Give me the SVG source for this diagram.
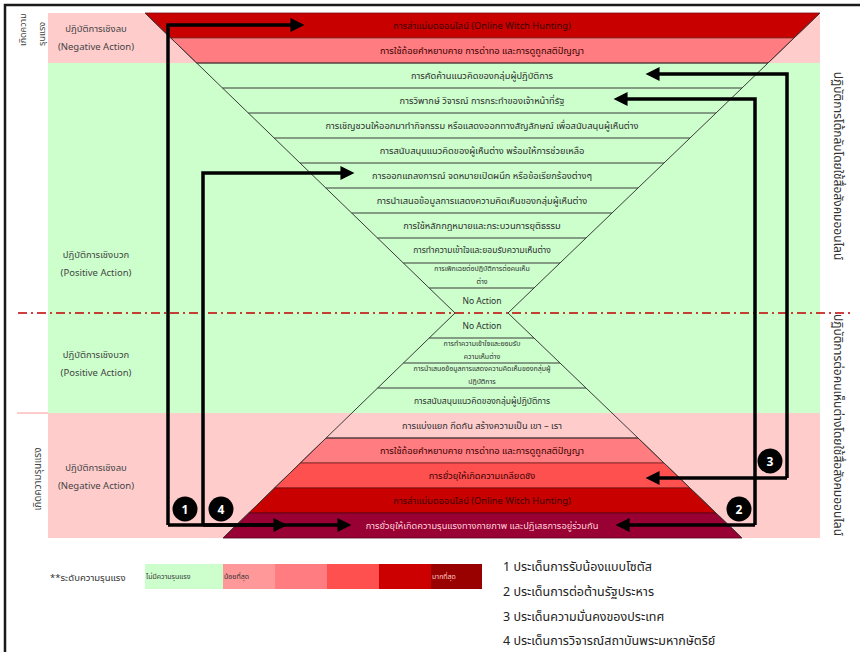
<svg xmlns="http://www.w3.org/2000/svg" width="860" height="652" viewBox="0 0 860 652">
<style>
text{font-family:"Noto Sans Thai","Noto Sans","DejaVu Sans",sans-serif}
.r{font-size:9.3px;text-anchor:middle;fill:#2e2e2e}
.rd{font-size:9.3px;text-anchor:middle;fill:#3a0000}
.rw{font-size:9.3px;text-anchor:middle;fill:#ffd6de}
.s{font-size:7px;text-anchor:middle;fill:#2e2e2e}
.lbl{font-size:9.5px;text-anchor:middle;fill:#444}
.v{font-size:9px;fill:#444}
.vr{font-size:12px;fill:#333;text-anchor:middle}
.sep{stroke:#3a3a3a;stroke-width:1;fill:none}
.arr{stroke:#000;stroke-width:3.5;fill:none;marker-end:url(#ah)}
.num{font-size:12px;font-weight:bold;fill:#fff;text-anchor:middle}
.lg{font-size:7px;fill:#333}
.li{font-size:12.5px;fill:#222}
</style>
<defs>
<marker id="ah" viewBox="0 0 10 10" refX="4.67" refY="5" markerWidth="15" markerHeight="14" markerUnits="userSpaceOnUse" orient="auto">
<path d="M0,0 L10,5 L0,10 z" fill="#000"/>
</marker>
</defs>
<rect width="860" height="652" fill="#fff"/>
<g id="frame">
<path d="M5,652 V5 H860" stroke="#1a1a1a" stroke-width="2.5" fill="none"/>
</g>
<g id="bands">
<rect x="48" y="13" width="772" height="50" fill="#FFCCCC"/>
<rect x="48" y="63" width="772" height="350" fill="#CCFFCC"/>
<rect x="48" y="413" width="772" height="125" fill="#FFCCCC"/>
<line x1="17" y1="413" x2="48" y2="413" stroke="#FF9999" stroke-width="1"/>
</g>
<g id="top-funnel">
<polygon points="145,13 820,13 794,38 170.8,38" fill="#C80000" stroke="#7a1010" stroke-width="0.8"/>
<polygon points="170.8,38 794,38 768,63 196.7,63" fill="#FF7C80" stroke="#7a3030" stroke-width="0.8"/>
<path class="sep" d="M145,13 L455,313 M820,13 L508,313 M196.7,63 H768 M222.5,88 H742 M248.3,113 H716 M274.2,138 H690 M300,163 H664 M325.8,188 H638 M351.7,213 H612 M377.5,238 H586 M403.3,263 H560 M429.2,288 H534"/>
<text class="rd" x="482" y="29">การล่าแม่มดออนไลน์ (Online Witch Hunting)</text>
<text class="rd" x="482" y="54">การใช้ถ้อยคำหยาบคาย การด่าทอ และการดูถูกสติปัญญา</text>
<text class="r" x="482" y="79">การคัดค้านแนวคิดของกลุ่มผู้ปฏิบัติการ</text>
<text class="r" x="482" y="104">การวิพากษ์ วิจารณ์ การกระทำของเจ้าหน้าที่รัฐ</text>
<text class="r" x="482" y="129">การเชิญชวนให้ออกมาทำกิจกรรม หรือแสดงออกทางสัญลักษณ์ เพื่อสนับสนุนผู้เห็นต่าง</text>
<text class="r" x="482" y="154">การสนับสนุนแนวคิดของผู้เห็นต่าง พร้อมให้การช่วยเหลือ</text>
<text class="r" x="482" y="179">การออกแถลงการณ์ จดหมายเปิดผนึก หรือข้อเรียกร้องต่างๆ</text>
<text class="r" x="482" y="204">การนำเสนอข้อมูลการแสดงความคิดเห็นของกลุ่มผู้เห็นต่าง</text>
<text class="r" x="482" y="229">การใช้หลักกฎหมายและกระบวนการยุติธรรม</text>
<text class="r" x="482" y="253" style="font-size:8.5px">การทำความเข้าใจและยอมรับความเห็นต่าง</text>
<text class="s" x="482" y="271">การเพิกเฉยต่อปฏิบัติการต่อคนเห็น</text>
<text class="s" x="482" y="284">ต่าง</text>
<text class="r" x="482" y="304" style="font-size:8.5px">No Action</text>
</g>
<g id="bottom-funnel">
<polygon points="326.1,438 638,438 664,463 300.3,463" fill="#FF7C80" stroke="#7a3030" stroke-width="0.8"/>
<polygon points="300.3,463 664,463 690,488 274.6,488" fill="#FF5050" stroke="#7a2020" stroke-width="0.8"/>
<polygon points="274.6,488 690,488 716,513 248.8,513" fill="#C80000" stroke="#6a1010" stroke-width="0.8"/>
<polygon points="248.8,513 716,513 742,538 223,538" fill="#990033" stroke="#500018" stroke-width="0.8"/>
<path class="sep" d="M455,313 L223,538 M508,313 L742,538 M429.2,338 H534 M403.4,363 H560 M377.7,388 H586 M326.1,438 H638"/>
<text class="r" x="482" y="329" style="font-size:8.5px">No Action</text>
<text class="s" x="482" y="346">การทำความเข้าใจและยอมรับ</text>
<text class="s" x="482" y="359">ความเห็นต่าง</text>
<text class="s" x="482" y="371">การนำเสนอข้อมูลการแสดงความคิดเห็นของกลุ่มผู้</text>
<text class="s" x="482" y="384">ปฏิบัติการ</text>
<text class="r" x="482" y="404" style="font-size:8.5px">การสนับสนุนแนวคิดของกลุ่มผู้ปฏิบัติการ</text>
<text class="r" x="482" y="429">การแบ่งแยก กีดกัน สร้างความเป็น เขา – เรา</text>
<text class="rd" x="482" y="454">การใช้ถ้อยคำหยาบคาย การด่าทอ และการดูถูกสติปัญญา</text>
<text class="rd" x="482" y="479">การยั่วยุให้เกิดความเกลียดชัง</text>
<text class="rd" x="482" y="504">การล่าแม่มดออนไลน์ (Online Witch Hunting)</text>
<text class="rw" x="482" y="529">การยั่วยุให้เกิดความรุนแรงทางกายภาพ และปฏิเสธการอยู่ร่วมกัน</text>
</g>
<g id="divider">
<line x1="18" y1="313" x2="852" y2="313" stroke="#C00000" stroke-width="1.5" stroke-dasharray="9 4 2 4"/>
</g>
<g id="left-labels">
<text class="lbl" x="96" y="32">ปฏิบัติการเชิงลบ</text>
<text class="lbl" x="96" y="50">(Negative Action)</text>
<text class="lbl" x="96" y="258">ปฏิบัติการเชิงบวก</text>
<text class="lbl" x="96" y="276">(Positive Action)</text>
<text class="lbl" x="96" y="358">ปฏิบัติการเชิงบวก</text>
<text class="lbl" x="96" y="376">(Positive Action)</text>
<text class="lbl" x="96" y="471">ปฏิบัติการเชิงลบ</text>
<text class="lbl" x="96" y="489">(Negative Action)</text>
<text class="v" transform="translate(26,46) rotate(-90)">เกิดความ</text>
<text class="v" transform="translate(45,46) rotate(-90)">รุนแรง</text>
<text class="v" style="font-size:10px;text-anchor:middle" transform="translate(41,479) rotate(-90)">เกิดความรุนแรง</text>
</g>
<g id="right-labels">
<text class="vr" transform="translate(834,166) rotate(90)">ปฏิบัติการโต้กลับโดยใช้สื่อสังคมออนไลน์</text>
<text class="vr" transform="translate(834,425) rotate(90)">ปฏิบัติการต่อคนเห็นต่างโดยใช้สื่อสังคมออนไลน์</text>
</g>
<g id="connectors">
<path class="arr" d="M168,525 V25 H297"/>
<path class="arr" d="M168,525 H280"/>
<path class="arr" d="M203,525 V173 H347"/>
<path class="arr" d="M203,525 H344"/>
<path class="arr" d="M755,525 V99 H621"/>
<path class="arr" d="M755,525 H623"/>
<path class="arr" d="M787,478 V74 H653"/>
<path class="arr" d="M787,478 H653"/>
</g>
<g id="badges">
<g id="b1"><circle cx="185" cy="509" r="12.5" fill="#000"/><text class="num" x="185" y="513.5">1</text></g>
<g id="b4"><circle cx="221" cy="509" r="12.5" fill="#000"/><text class="num" x="221" y="513.5">4</text></g>
<g id="b2"><circle cx="739" cy="509" r="12.5" fill="#000"/><text class="num" x="739" y="513.5">2</text></g>
<g id="b3"><circle cx="770" cy="461" r="12.5" fill="#000"/><text class="num" x="770" y="465.5">3</text></g>
</g>
<g id="legend">
<text x="50" y="581" style="font-size:9.5px;fill:#333">**ระดับความรุนแรง</text>
<rect x="145" y="564" width="78" height="25" fill="#CCFFCC"/>
<rect x="223" y="564" width="52" height="25" fill="#FF9999"/>
<rect x="275" y="564" width="52" height="25" fill="#FF7C80"/>
<rect x="327" y="564" width="52" height="25" fill="#FF5050"/>
<rect x="379" y="564" width="52" height="25" fill="#CC0000"/>
<rect x="431" y="564" width="51" height="25" fill="#990000"/>
<text class="lg" x="146" y="579">ไม่มีความรุนแรง</text>
<text class="lg" x="224" y="579">น้อยที่สุด</text>
<text class="lg" x="432" y="579" style="fill:#ffc8c8">มากที่สุด</text>
</g>
<g id="issues">
<text class="li" x="503" y="571">1 ประเด็นการรับน้องแบบโซตัส</text>
<text class="li" x="503" y="596">2 ประเด็นการต่อต้านรัฐประหาร</text>
<text class="li" x="503" y="621">3 ประเด็นความมั่นคงของประเทศ</text>
<text class="li" x="503" y="645">4 ประเด็นการวิจารณ์สถาบันพระมหากษัตริย์</text>
</g>
</svg>
